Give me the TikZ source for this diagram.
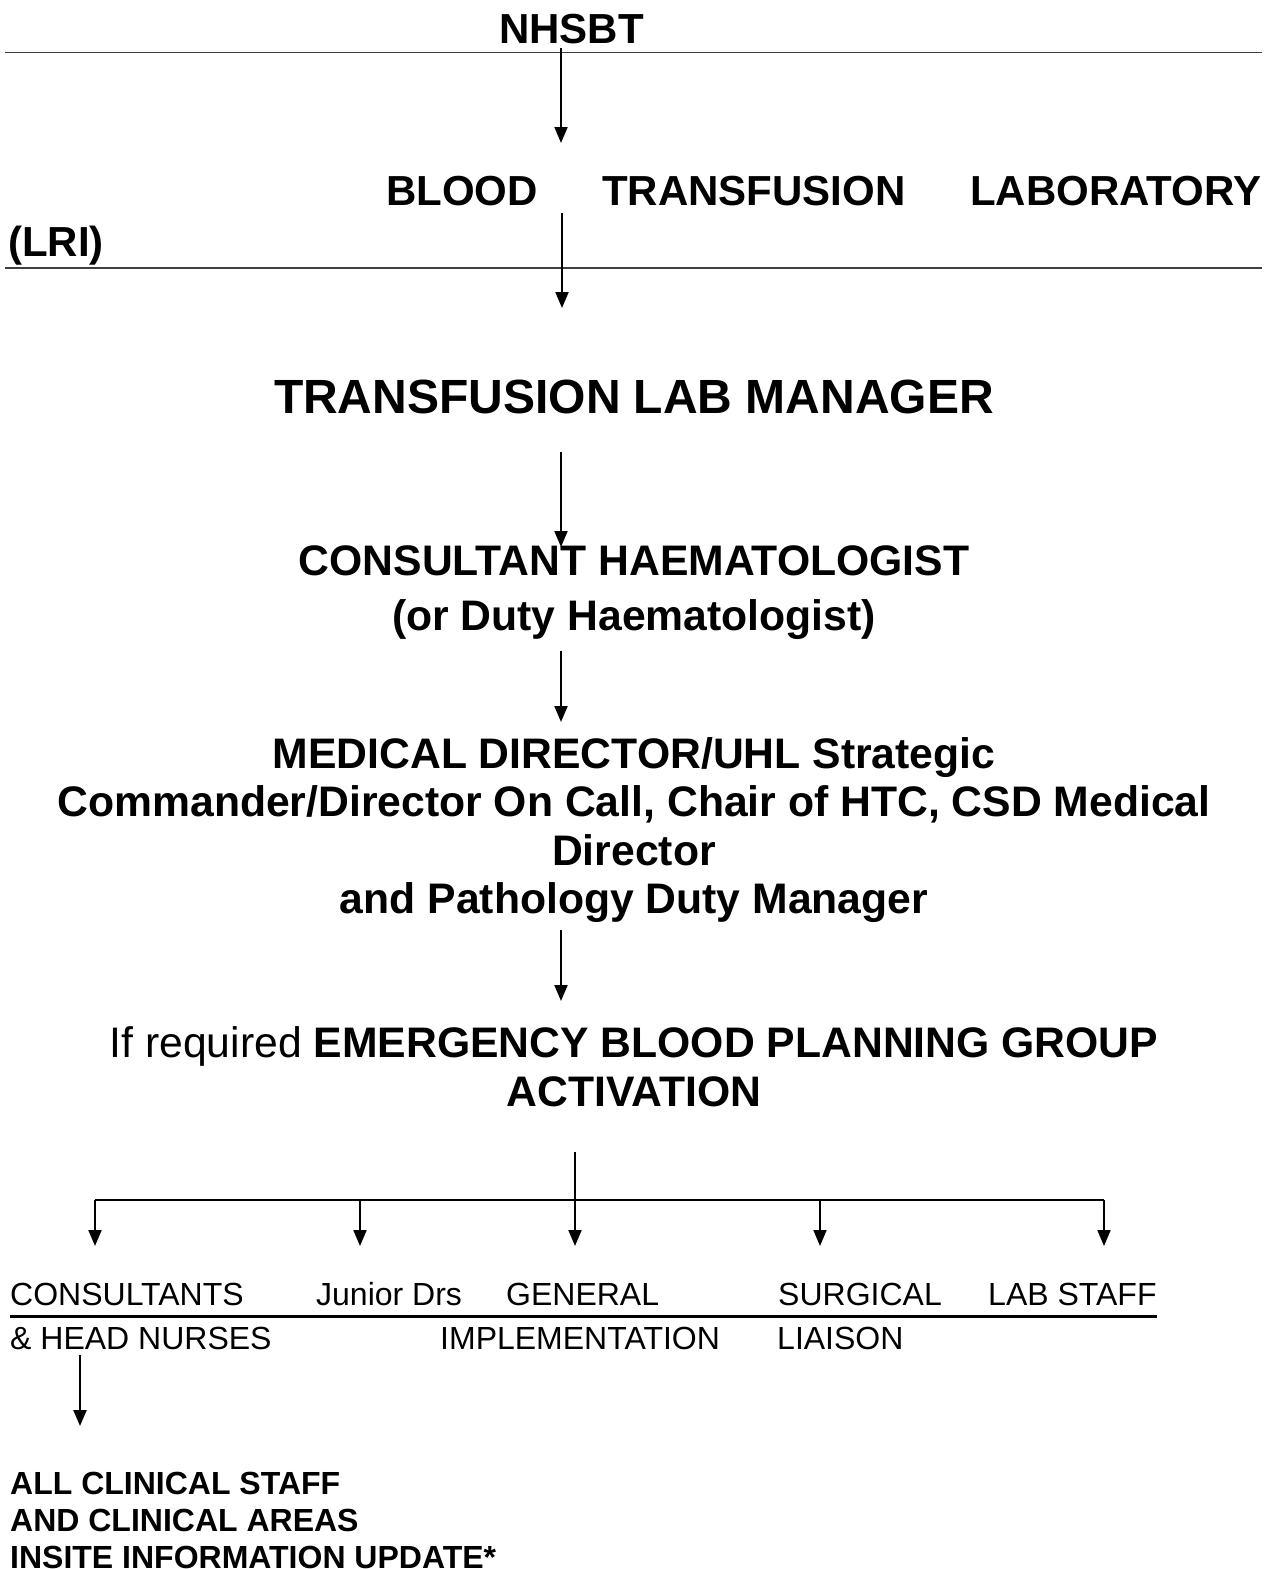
\documentclass[tikz,border=0pt]{standalone}
\usepackage{fontspec}
\setmainfont{Liberation Sans}
\usetikzlibrary{arrows.meta}

\tikzset{
  flow/.style={-{Triangle[length=16pt,width=13pt]}, line width=2pt},
  rule/.style={line width=1.5pt, black!75},
  head/.style={font=\fontsize{42.7}{49}\selectfont, inner sep=0pt, anchor=base},
  top/.style={font=\fontsize{42}{48}\selectfont\bfseries, inner sep=0pt, anchor=base west},
  big/.style={font=\fontsize{48}{56}\selectfont\bfseries, inner sep=0pt, anchor=base},
  team/.style={font=\fontsize{32}{40}\selectfont, inner sep=0pt, anchor=base west},
  staff/.style={font=\fontsize{32}{40}\selectfont\bfseries, inner sep=0pt, anchor=base west},
}

\begin{document}
\begin{tikzpicture}[x=1pt,y=-1pt]
  \useasboundingbox (0,0) rectangle (1271,1569);

  % Supplier and laboratory
  \node[top] (nhsbt) at (499,43) {NHSBT};
  \draw[rule] (5,52.5) coordinate (r1l) -- (1262,52.5) coordinate (r1r);
  \node[top] (btl) at (386,205)
    {BLOOD\hspace{64.5pt}TRANSFUSION\hspace{64.5pt}LABORATORY};
  \node[top] (lri) at (8,256) {(LRI)};
  \draw[rule] (5,268) coordinate (r2l) -- (1262,268) coordinate (r2r);

  % Chain of notification
  \node[big] (mgr) at (634,413) {TRANSFUSION LAB MANAGER};
  \node[head] (cons) at (634,575) {\bfseries CONSULTANT HAEMATOLOGIST};
  \node[head] (duty) at (634,630) {\bfseries (or Duty Haematologist)};
  \node[head] (med1) at (634,768) {\bfseries MEDICAL DIRECTOR/UHL Strategic};
  \node[head] (med2) at (634,816) {\bfseries Commander/Director On Call, Chair of HTC, CSD Medical};
  \node[head] (med3) at (634,865) {\bfseries Director};
  \node[head] (med4) at (634,913) {\bfseries and Pathology Duty Manager};
  \node[head] (ebpg1) at (634,1057) {If required \bfseries EMERGENCY BLOOD PLANNING GROUP};
  \node[head] (ebpg2) at (634,1106) {\bfseries ACTIVATION};

  \foreach \n/\x/\ya/\yb in {1/561/48/143, 2/562/213/308, 3/561/452/547,
                             4/561/651/722, 5/561/930/1001} {
    \coordinate (s\n) at (\x,\ya);
    \coordinate (e\n) at (\x,\yb);
    \draw[flow] (s\n) -- (e\n);
  }

  % Cascade to the teams
  \coordinate (fork) at (575,1152);
  \coordinate (barL) at (95,1200);
  \coordinate (barR) at (1104,1200);
  \draw[line width=2pt] (barL) -- (barR);
  \foreach \n/\x in {cons/95, jun/360, gen/575, surg/820, lab/1104} {
    \coordinate (d\n) at (\x,1200);
    \coordinate (t\n) at (\x,1246);
    \draw[flow] (d\n) -- (t\n);
  }
  \draw[line width=2pt] (fork) -- (dgen);

  \node[team] (tcons) at (10,1305) {CONSULTANTS};
  \node[team] (tjun) at (316,1305) {Junior Drs};
  \node[team] (tgen) at (506,1305) {GENERAL};
  \node[team] (tsurg) at (778,1305) {SURGICAL};
  \node[team] (tlab) at (988,1305) {LAB STAFF};
  \draw[line width=3pt] (10,1316) coordinate (ul) -- (1157,1316) coordinate (ur);
  \node[team] (tcons2) at (10,1349) {\& HEAD NURSES};
  \node[team] (tgen2) at (440,1349) {IMPLEMENTATION};
  \node[team] (tsurg2) at (777,1349) {LIAISON};

  % Clinical areas
  \coordinate (s6) at (80,1355);
  \coordinate (e6) at (80,1426);
  \draw[flow] (s6) -- (e6);
  \node[staff] (all1) at (10,1494) {ALL CLINICAL STAFF};
  \node[staff] (all2) at (10,1531) {AND CLINICAL AREAS};
  \node[staff] (all3) at (10,1568) {INSITE INFORMATION UPDATE*};
\end{tikzpicture}
\end{document}
